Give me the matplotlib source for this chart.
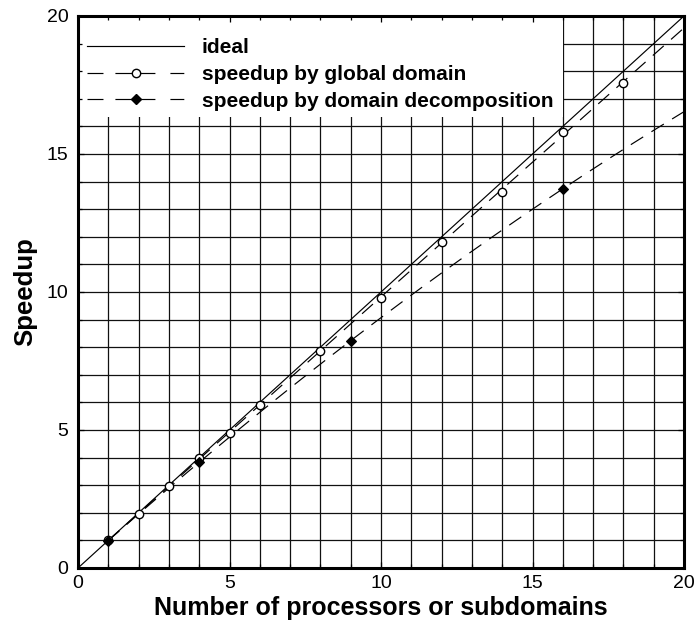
import numpy as np
import matplotlib
matplotlib.use("Agg")
import matplotlib.pyplot as plt
from matplotlib.patches import Rectangle
from matplotlib.ticker import MultipleLocator
from matplotlib.lines import Line2D

plt.rcParams["font.family"] = ["Liberation Sans", "DejaVu Sans"]
plt.rcParams["lines.scale_dashes"] = False

# Measured speedups
n_global = [1, 2, 3, 4, 5, 6, 8, 10, 12, 14, 16, 18]
speedup_global = [1.0, 1.96, 2.96, 3.99, 4.9, 5.92, 7.88, 9.8, 11.8, 13.64, 15.78, 17.59]

n_decomp = [1, 4, 9, 16]
speedup_decomp = [0.99, 3.84, 8.23, 13.74]

n_ideal = [0, 20]
speedup_ideal = [0, 20]

labels = ["ideal", "speedup by global domain", "speedup by domain decomposition"]

fig = plt.figure(figsize=(6.98, 6.23), dpi=100)
ax = fig.add_axes([78 / 698, 1 - 568 / 623, 606 / 698, 552 / 623])
ax.set_xlim(0, 20)
ax.set_ylim(0, 20)

# unit grid drawn underneath everything
grid_pos = np.arange(1, 20)
ax.vlines(grid_pos, 0, 20, color="#111111", lw=0.9, zorder=1)
ax.hlines(grid_pos, 0, 20, color="#111111", lw=0.9, zorder=1)

# white panel behind the legend
ax.add_patch(Rectangle((0, 0.8175), 0.8, 0.1825, transform=ax.transAxes,
                       facecolor="white", edgecolor="none", zorder=1.2))

dash = (0, (10.5, 7.0))

ax.plot(n_ideal, speedup_ideal, color="black", lw=0.85, zorder=3)

# quadratic fits of the measurements
xs = np.linspace(1, 20, 200)
cg = np.polyfit(n_global, speedup_global, 2)
cd = np.polyfit(n_decomp, speedup_decomp, 2)
ax.plot(xs, np.polyval(cg, xs), color="black", lw=0.85, linestyle=dash, zorder=3)
ax.plot(xs, np.polyval(cd, xs), color="black", lw=0.85, linestyle=dash, zorder=3)

ax.plot(n_global, speedup_global, linestyle="none", marker="o", ms=6.0,
        mfc="white", mec="black", mew=1.0, zorder=4)
ax.plot(n_decomp, speedup_decomp, linestyle="none", marker="D", ms=5.0,
        mfc="black", mec="black", mew=0.8, zorder=5)

legend_dash = (0, (11.5, 8.6, 28.8, 10.8, 10.0, 10.0))
handles = [
    Line2D([], [], color="black", lw=0.85),
    Line2D([], [], color="black", lw=0.85, linestyle=legend_dash, marker="o",
           ms=6.0, mfc="white", mec="black", mew=1.0),
    Line2D([], [], color="black", lw=0.85, linestyle=legend_dash, marker="D",
           ms=5.0, mfc="black", mec="black"),
]
leg = ax.legend(handles, labels, loc="upper left", bbox_to_anchor=(0.015, 0.960),
                frameon=False, borderpad=0, borderaxespad=0, handlelength=4.66,
                handletextpad=0.85, labelspacing=0.375, numpoints=1,
                prop={"weight": "bold", "size": 15})
leg.set_zorder(6)

ax.xaxis.set_major_locator(MultipleLocator(5))
ax.yaxis.set_major_locator(MultipleLocator(5))
ax.xaxis.set_minor_locator(MultipleLocator(1))
ax.yaxis.set_minor_locator(MultipleLocator(1))
ax.tick_params(which="both", direction="in", top=True, right=True, width=0.9)
ax.tick_params(which="major", length=4, labelsize=14)
ax.tick_params(which="minor", length=3)
ax.tick_params(axis="y", which="major", pad=7)
ax.tick_params(axis="x", which="major", pad=5)

for sp in ax.spines.values():
    sp.set_linewidth(2.2)
    sp.set_zorder(7)

ax.set_xlabel("Number of processors or subdomains", fontsize=18, fontweight="bold",
              labelpad=3)
ax.set_ylabel("Speedup", fontsize=18.5, fontweight="bold", labelpad=7)

fig.savefig("out.png", dpi=100)
